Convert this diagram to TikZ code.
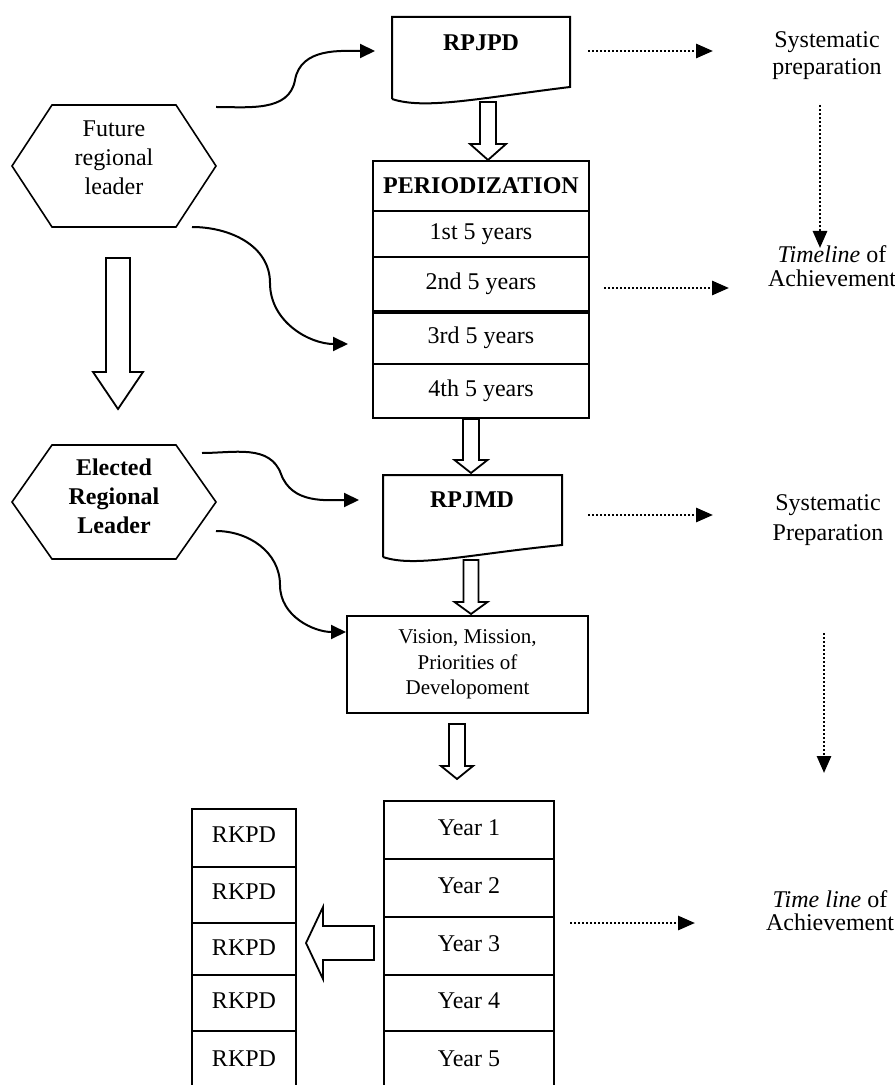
\documentclass[tikz,border=0pt]{standalone}
\usepackage{fontspec}
\setmainfont{Liberation Serif}
\usetikzlibrary{arrows.meta}
% hollow down arrow: x, ytop, yhead, ytip, shaft width, head width
\newcommand{\hollowdn}[6]{\draw[harrow] ({#1-#5/2},#2) -- ({#1-#5/2},#3) -- ({#1-#6/2},#3) -- (#1,#4) -- ({#1+#6/2},#3) -- ({#1+#5/2},#3) -- ({#1+#5/2},#2) -- cycle;}
\begin{document}
\begin{tikzpicture}[x=0.5pt,y=-0.5pt,
 every node/.style={font=\fontsize{12}{14.5}\selectfont},
 hexline/.style={draw, line width=0.8pt},
 doc/.style={draw, line width=1pt},
 cell/.style={draw, line width=1pt, inner sep=0pt, minimum width=#1},
 harrow/.style={draw, line width=0.9pt, fill=white},
 curvar/.style={line width=1pt, -{Triangle[length=7.5pt,width=7pt]}},
 dotar/.style={line width=1.4pt, dash pattern=on 1pt off 1pt, -{Triangle[length=8.5pt,width=7pt]}},
 lbl/.style={align=center, inner sep=0pt},
]
\useasboundingbox (0,0) rectangle (894,1085);

% ---------- hexagons ----------
\draw[hexline] (12,166) -- (52,105) -- (176,105) -- (216,166) -- (176,227) -- (52,227) -- cycle;
\node[lbl] (fut) at (114,158) {Future\\regional\\leader};
\draw[hexline] (12,502) -- (52,445) -- (176,445) -- (216,502) -- (176,559) -- (52,559) -- cycle;
\node[lbl, font=\fontsize{12}{14.5}\selectfont\bfseries] (ele) at (114,496) {Elected\\Regional\\Leader};

% ---------- documents ----------
\draw[doc] (392,99) -- (392,17) -- (570,17) -- (570,87) .. controls (480,98) and (425,110) .. (392,99);
\node[inner sep=0pt, font=\fontsize{12}{14.5}\selectfont\bfseries] (rpjpd) at (481,42.5) {RPJPD};
\draw[doc] (383,557) -- (383,475) -- (562,475) -- (562,545) .. controls (470,554) and (415,568) .. (383,557);
\node[inner sep=0pt, font=\fontsize{12}{14.5}\selectfont\bfseries] (rpjmd) at (472,499.5) {RPJMD};

% ---------- periodization ----------
\node[cell=108pt, minimum height=25pt, font=\fontsize{12}{14.5}\selectfont\bfseries] (phead) at (481,186) {PERIODIZATION};
\node[cell=108pt, minimum height=23pt] (p1) at (481,234) {1st 5 years};
\node[cell=108pt, minimum height=27pt] (p2) at (481,284) {2nd 5 years};
\node[cell=108pt, minimum height=26.5pt] (p3) at (481,337.5) {3rd 5 years};
\node[cell=108pt, minimum height=27pt] (p4) at (481,391) {4th 5 years};
\draw[line width=2.2pt] (p2.south west) -- (p2.south east);

% ---------- vision ----------
\node[cell=120.5pt, minimum height=48.5pt, align=center, font=\fontsize{10.5}{12.8}\selectfont] (vis) at (467.5,664.5) {Vision, Mission,\\Priorities of\\Developoment};

% ---------- years ----------
\node[cell=85pt, minimum height=29pt] (y1) at (469,830) {\raisebox{2pt}{Year 1}};
\node[cell=85pt, minimum height=29pt] (y2) at (469,888) {\raisebox{2.5pt}{Year 2}};
\node[cell=85pt, minimum height=29pt] (y3) at (469,946) {\raisebox{2.5pt}{Year 3}};
\node[cell=85pt, minimum height=28pt] (y4) at (469,1003) {\raisebox{2pt}{Year 4}};
\node[cell=85pt, minimum height=30pt] (y5) at (469,1061) {\raisebox{2pt}{Year 5}};

% ---------- RKPD ----------
\node[cell=52pt, minimum height=29pt] (k1) at (244,838) {\raisebox{3pt}{RKPD}};
\node[cell=52pt, minimum height=28pt] (k2) at (244,895) {\raisebox{3pt}{RKPD}};
\node[cell=52pt, minimum height=26pt] (k3) at (244,949) {\raisebox{1pt}{RKPD}};
\node[cell=52pt, minimum height=28pt] (k4) at (244,1003) {\raisebox{2.5pt}{RKPD}};
\node[cell=52pt, minimum height=30pt] (k5) at (244,1061) {\raisebox{2.5pt}{RKPD}};

% ---------- right labels ----------
\node[lbl, font=\fontsize{12}{13.5}\selectfont] (sp1) at (827,55.5) {Systematic\\preparation};
\node[lbl, font=\fontsize{12}{12}\selectfont] (tl1) at (832,266) {\textit{Timeline} of\\Achievement};
\node[lbl, font=\fontsize{12}{15}\selectfont] (sp2) at (828,520) {Systematic\\Preparation};
\node[lbl, font=\fontsize{12}{11.5}\selectfont] (tl2) at (830,911) {\textit{Time line} of\\Achievement};

% ---------- hollow block arrows ----------
\hollowdn{488}{102}{144}{160}{16}{36}
\hollowdn{471}{419}{460}{473}{16}{33}
\hollowdn{471}{560}{602}{614}{15}{33}
\hollowdn{457}{724}{766}{779}{16}{32}
\hollowdn{118}{258}{372}{409}{24}{50}
\draw[harrow] (374,926) -- (374,960) -- (323,960) -- (323,979) -- (306,943) -- (323,907) -- (323,926) -- cycle;

% ---------- curved connectors ----------
\coordinate (c1s) at (216,107);
\coordinate (c1m) at (295,80);
\coordinate (c1e) at (375,51);
\draw[curvar] (c1s) to[out=0,in=-100] (c1m) to[out=80,in=180] (c1e);

\coordinate (c2s) at (192,227);
\coordinate (c2m) at (270,283);
\coordinate (c2e) at (348,344);
\draw[curvar] (c2s) to[out=0,in=90] (c2m) to[out=-90,in=180] (c2e);

\coordinate (c3s) at (202,453);
\coordinate (c3m) at (281,474);
\coordinate (c3e) at (359,500);
\draw[curvar] (c3s) to[out=0,in=110] (c3m) to[out=-70,in=180] (c3e);

\coordinate (c4s) at (216,531);
\coordinate (c4m) at (280,585);
\coordinate (c4e) at (346,632);
\draw[curvar] (c4s) to[out=0,in=90] (c4m) to[out=-90,in=180] (c4e);

% ---------- dotted connectors ----------
\coordinate (d1s) at (588,51);  \coordinate (d1e) at (713,51);
\coordinate (d2s) at (604,288); \coordinate (d2e) at (729,288);
\coordinate (d3s) at (588,515); \coordinate (d3e) at (713,515);
\coordinate (d4s) at (570,923); \coordinate (d4e) at (695,923);
\coordinate (d5s) at (820,105); \coordinate (d5e) at (820,248);
\coordinate (d6s) at (824,633); \coordinate (d6e) at (824,773);
\draw[dotar] (d1s) -- (d1e);
\draw[dotar] (d2s) -- (d2e);
\draw[dotar] (d3s) -- (d3e);
\draw[dotar] (d4s) -- (d4e);
\draw[dotar] (d5s) -- (d5e);
\draw[dotar] (d6s) -- (d6e);
\end{tikzpicture}
\end{document}
